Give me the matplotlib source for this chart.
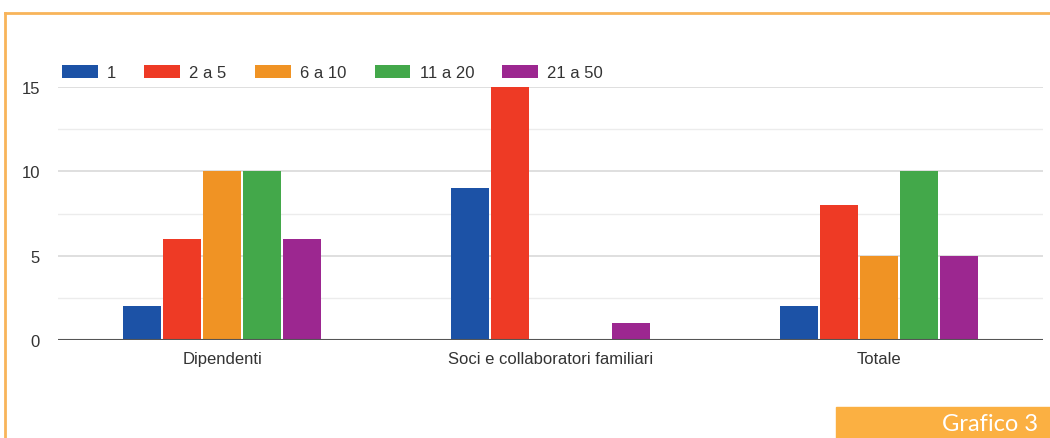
import numpy as np
import matplotlib.pyplot as plt
from matplotlib.lines import Line2D
from matplotlib.patches import Rectangle

# data
categories = ["Dipendenti", "Soci e collaboratori familiari", "Totale"]
series_names = ["1", "2 a 5", "6 a 10", "11 a 20", "21 a 50"]
v_1 = [2, 9, 2]
v_2a5 = [6, 15, 8]
v_6a10 = [10, 0, 5]
v_11a20 = [10, 0, 10]
v_21a50 = [6, 1, 5]
colors = ["#1c52a6", "#ee3a25", "#f09324", "#43a84a", "#9c2790"]

plt.rcParams['font.family'] = ['Liberation Sans', 'DejaVu Sans']

fig = plt.figure(figsize=(10.5, 4.39), dpi=100)
W, H = 1050, 439
ax = fig.add_axes([58 / W, 1 - 341 / H, (1043 - 58) / W, (341 - 88) / H])

x = np.arange(len(categories))
bw = 0.122
all_vals = [v_1, v_2a5, v_6a10, v_11a20, v_21a50]
for i, (vals, name, c) in enumerate(zip(all_vals, series_names, colors)):
    ax.bar(x + (i - 2) * bw, vals, width=bw * 0.95, color=c, label=name, zorder=3)

ax.set_xlim(-0.5, 2.5)
ax.set_ylim(0, 15)
ax.set_yticks([0, 5, 10, 15])
ax.set_yticks([2.5, 7.5, 12.5], minor=True)
ax.grid(axis='y', which='major', color='#d9d9d9', lw=1.2, zorder=0)
ax.grid(axis='y', which='minor', color='#ececec', lw=1.0, zorder=0)
ax.axhline(0, color='#555555', lw=1.5, zorder=4)
for s in ax.spines.values():
    s.set_visible(False)
ax.tick_params(axis='both', which='both', length=0, labelsize=12, colors='#333333')
ax.tick_params(axis='y', pad=13)
ax.tick_params(axis='x', pad=8)
ax.set_xticks(x)
ax.set_xticklabels(categories)

leg = ax.legend(loc='lower left', bbox_to_anchor=(-0.003, 1.0), ncol=5, frameon=False,
                fontsize=12, handlelength=2.15, handleheight=0.85, handletextpad=0.55,
                columnspacing=1.7, borderaxespad=0.2, borderpad=0.2)
for t in leg.get_texts():
    t.set_color('#333333')

# orange frame (top and left)
fig.add_artist(Line2D([5 / W, 1], [1 - 14 / H, 1 - 14 / H], color='#f8b45a', lw=2,
                      transform=fig.transFigure))
fig.add_artist(Line2D([5 / W, 5 / W], [0, 1 - 14 / H], color='#f8b45a', lw=2,
                      transform=fig.transFigure))

# caption box
fig.add_artist(Rectangle((836 / W, 0), (W - 836) / W, 31 / H, color='#fbb042',
                         transform=fig.transFigure))
fig.text(1038 / W, 14 / H, "Grafico 3", color='white', fontsize=17, ha='right',
         va='center', family=['Lato', 'DejaVu Sans'])

fig.savefig("out.png", dpi=100)
